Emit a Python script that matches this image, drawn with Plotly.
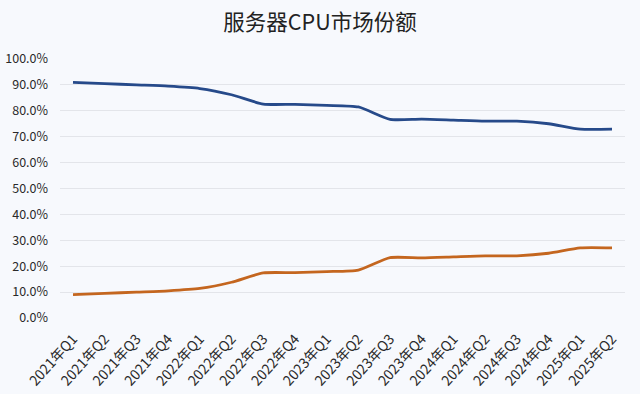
import plotly.graph_objects as go

categories = ["2021年Q1", "2021年Q2", "2021年Q3", "2021年Q4",
              "2022年Q1", "2022年Q2", "2022年Q3", "2022年Q4",
              "2023年Q1", "2023年Q2", "2023年Q3", "2023年Q4",
              "2024年Q1", "2024年Q2", "2024年Q3", "2024年Q4",
              "2025年Q1", "2025年Q2"]
intel_share = [0.910, 0.905, 0.900, 0.895, 0.886, 0.862, 0.826, 0.825, 0.821,
               0.815, 0.767, 0.768, 0.764, 0.760, 0.760, 0.750, 0.729, 0.729]
amd_share = [0.090, 0.095, 0.100, 0.105, 0.114, 0.138, 0.174, 0.175, 0.179,
             0.185, 0.233, 0.232, 0.236, 0.240, 0.240, 0.250, 0.271, 0.271]
y_ticks = [0, 0.1, 0.2, 0.3, 0.4, 0.5, 0.6, 0.7, 0.8, 0.9, 1.0]

FONT = "Noto Sans CJK SC"
bg = "#f7f9fd"

fig = go.Figure()
fig.add_trace(go.Scatter(x=categories, y=intel_share, mode="lines",
                         line=dict(color="#264a8a", width=2.8, shape="spline", smoothing=0.6),
                         name="Intel", hoverinfo="x+y"))
fig.add_trace(go.Scatter(x=categories, y=amd_share, mode="lines",
                         line=dict(color="#c4661f", width=2.8, shape="spline", smoothing=0.6),
                         name="AMD", hoverinfo="x+y"))

fig.update_layout(
    width=640, height=394,
    paper_bgcolor=bg, plot_bgcolor=bg,
    margin=dict(l=60, r=15, t=59, b=76, autoexpand=False),
    showlegend=False,
    font=dict(family=FONT, color="#2a2a2a", size=12),
    title=dict(text="服务器CPU市场份额", x=0.5, xanchor="center", y=0.943, yanchor="middle",
               font=dict(family=FONT, size=21.5, color="#222222")),
)
fig.update_xaxes(type="category", range=[-0.41, 17.41], tickangle=-48,
                 showgrid=False, zeroline=False, showline=False, ticks="",
                 ticklabelstandoff=9,
                 tickfont=dict(family=FONT, size=14, color="#2a2a2a"), automargin=False)
fig.update_yaxes(range=[0, 1.0], tickvals=y_ticks, tickformat=".1%",
                 showgrid=True, gridcolor="#e3e5ea", gridwidth=1, zeroline=False,
                 showline=False, ticks="", ticklabelstandoff=11,
                 tickfont=dict(family=FONT, size=12.5, color="#2a2a2a"), automargin=False)

fig.write_html("out.html", config={"displayModeBar": False},
               post_script="document.body.style.margin='0px';document.body.style.background='%s';" % bg)
